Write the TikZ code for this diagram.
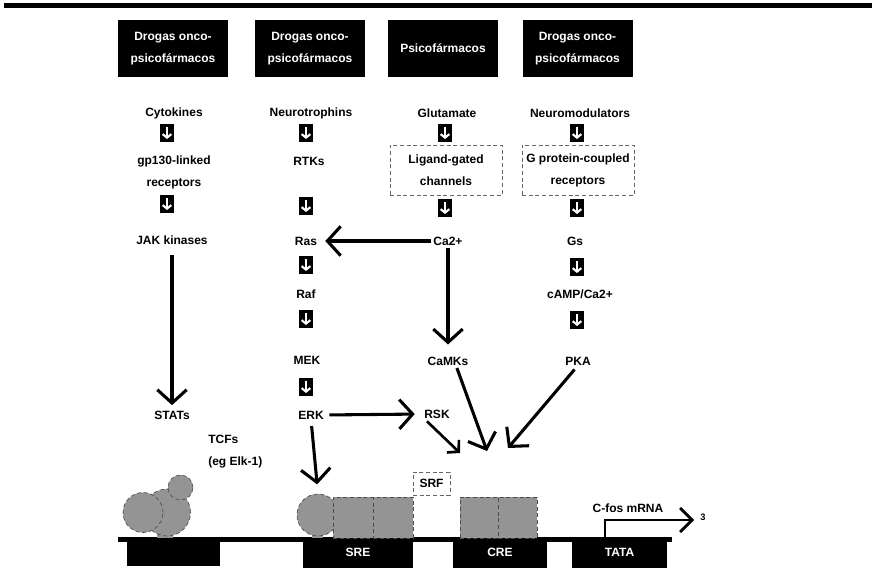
\documentclass[tikz,border=0pt]{standalone}
\usepackage{fontspec}
\setmainfont{Liberation Sans}
\usetikzlibrary{arrows.meta}
\begin{document}
\begin{tikzpicture}[x=0.75pt,y=-0.75pt,
  every node/.style={font=\fontsize{9}{16.5}\selectfont\bfseries, inner sep=0pt, align=center},
  hdr/.style={fill=black, text=white, minimum width=82.5pt, minimum height=43pt},
  dn/.style={fill=black, minimum width=11pt, minimum height=13pt,
    path picture={\draw[white, line width=1.6pt, -{Straight Barb[length=2.6pt,width=6.5pt]}]
      ([yshift=-2pt]path picture bounding box.north) -- ([yshift=2pt]path picture bounding box.south);}},
  dbox/.style={draw=black!60, densely dashed, line width=0.5pt, minimum width=84pt, minimum height=37.5pt},
  arr/.style={line width=2.3pt, -{Straight Barb[length=10pt,width=22pt]}},
  arrsmall/.style={line width=2pt, -{Straight Barb[length=6pt,width=13pt]}},
  blk/.style={fill=black, text=white, minimum height=23pt},
  prot/.style={fill=black!42, draw=black!70, densely dashed, line width=0.5pt},
  gbox/.style={prot, minimum width=30pt, minimum height=30.75pt},
  gcirc/.style={prot, circle}
]
\useasboundingbox (0,0) rectangle (872,580);

% top rule
\draw[line width=4pt] (4,5.5) -- (872,5.5);

% drug class headers
\node[hdr] (h1) at (173,48.5) {Drogas onco-\\psicofármacos};
\node[hdr] (h2) at (310,48.5) {Drogas onco-\\psicofármacos};
\node[hdr] (h3) at (443,48.5) {Psicofármacos};
\node[hdr] (h4) at (577.5,48.5) {Drogas onco-\\psicofármacos};

% cytokine pathway
\node (cyt) at (174,113) {Cytokines};
\node[dn] (i11) at (167,133) {};
\node (gp) at (174,172) {gp130-linked\\receptors};
\node[dn] (i12) at (167,204) {};
\node (jak) at (172,240) {JAK kinases};
\node (stat) at (172,415) {STATs};

% neurotrophin pathway
\node (neu) at (311,113) {Neurotrophins};
\node[dn] (i21) at (306,133) {};
\node (rtk) at (309,161) {RTKs};
\node[dn] (i22) at (306,206) {};
\node (ras) at (306,241) {Ras};
\node[dn] (i23) at (306,265) {};
\node (raf) at (306,294) {Raf};
\node[dn] (i24) at (306,319) {};
\node (mek) at (307,360) {MEK};
\node[dn] (i25) at (306,387) {};
\node (erk) at (311,415) {ERK};

% glutamate pathway
\node (glu) at (447,113) {Glutamate};
\node[dn] (i31) at (445,133) {};
\node[dbox] (lgc) at (446,170) {Ligand-gated\\channels};
\node[dn] (i32) at (445,208) {};
\node (ca) at (448,241) {Ca2+};
\node (camk) at (448,361) {CaMKs};
\node (rsk) at (437,414) {RSK};

% neuromodulator pathway
\node (nmod) at (580,113) {Neuromodulators};
\node[dn] (i41) at (577,133) {};
\node[dbox] (gpcr) at (578,170) {G protein-coupled\\receptors};
\node[dn] (i42) at (577,208) {};
\node (gs) at (575,241) {Gs};
\node[dn] (i43) at (577,267) {};
\node (camp) at (580,294) {cAMP/Ca2+};
\node[dn] (i44) at (577,320) {};
\node (pka) at (578,361) {PKA};

\node[anchor=west, align=left] (tcf) at (208,451.5) {TCFs\\(eg Elk-1)};

% promoter: DNA strand and elements
\fill (118,537) rectangle (672,542);
\node[blk, minimum width=69.75pt, minimum height=21.75pt] (b0) at (173.5,551.5) {};
\node[blk, minimum width=82.5pt] (sre) at (358,552.5) {SRE};
\node[blk, minimum width=70.5pt] (cre) at (500,552.5) {CRE};
\node[blk, minimum width=71.25pt] (tata) at (619.5,552.5) {TATA};

% bound proteins
\fill[black!42] (157,530) rectangle (173,538);
\node[gcirc, minimum size=35.25pt] (p2) at (167,512.5) {};
\node[gcirc, minimum size=30pt] (p1) at (143,512.5) {};
\node[gcirc, minimum size=18.75pt] (p3) at (180.5,487.5) {};
\fill[black!42] (312,530) rectangle (323,538);
\node[gcirc, minimum size=31.5pt] (sc) at (318,515) {};
\node[gbox] (sq1) at (353,517.5) {};
\node[gbox] (sq2) at (393,517.5) {};
\node[draw=black!60, densely dashed, line width=0.5pt, minimum width=27.75pt, minimum height=17.25pt] (srf) at (431.5,483.5) {SRF};
\node[gbox, minimum width=28.5pt] (cq1) at (479,518) {};
\node[gbox, minimum width=29.25pt] (cq2) at (517.5,518) {};

% transcript
\coordinate (tss) at (605,539);
\coordinate (mend) at (694,520);
\draw[line width=2pt, -{Straight Barb[length=9pt,width=18pt]}] (tss) |- (mend);
\node (mrna) at (628,508) {C-fos mRNA};
\node[font=\fontsize{7}{8}\selectfont\bfseries] (three) at (703,517) {3};

% signalling arrows
\draw[arr, shorten <=8pt, shorten >=4pt] (jak.south) -- (stat.north);
\draw[arr, shorten <=2pt, shorten >=6pt] (ca.west) -- (ras.east);
\draw[arr, shorten <=2pt, shorten >=9pt] (ca.south) -- (camk.north);
\draw[arr, shorten <=4pt, shorten >=7pt] (erk.east) -- (rsk.west);
\draw[arr, shorten <=5pt, shorten >=7pt] (erk.south) -- (sc.north);
\coordinate (t1) at (460,453);
\coordinate (t2) at (487,451);
\coordinate (t3) at (508,448);
\draw[arrsmall, shorten <=3pt] (rsk.south west) -- (t1);
\draw[arr, shorten <=2pt] ([xshift=6pt]camk.south) -- (t2);
\draw[arr, shorten <=4pt] (pka.south) -- (t3);
\end{tikzpicture}
\end{document}
